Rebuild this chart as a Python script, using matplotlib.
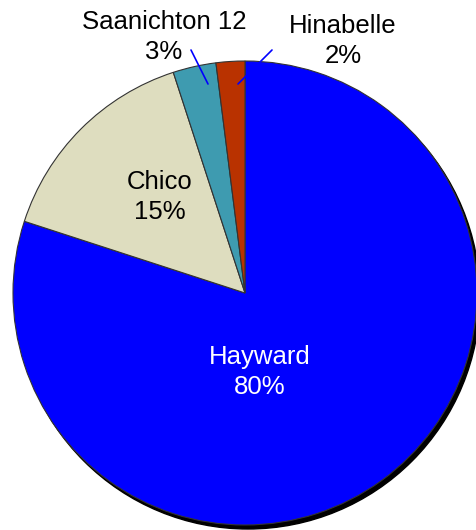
import numpy as np
import matplotlib.pyplot as plt
from matplotlib.patches import Circle

varieties = ['Hayward', 'Chico', 'Saanichton 12', 'Hinabelle']
shares = [80, 15, 3, 2]
colors = ['#0000ff', '#deddbf', '#3e9bb0', '#b93200']

plt.rcParams['font.family'] = ['Liberation Sans', 'DejaVu Sans']

fig = plt.figure(figsize=(4.77, 5.30), dpi=100)
ax = fig.add_axes([0, 0, 1, 1])

cx, cy, r = 245, 237, 232

# drop shadow behind the pie
ax.add_patch(Circle((cx + 3, cy - 4), r, color='black', zorder=0))

wedges, _ = ax.pie(shares, colors=colors, startangle=90, counterclock=False,
                   center=(cx, cy), radius=r, frame=True,
                   wedgeprops=dict(edgecolor='#333333', linewidth=0.8))
ax.set_xlim(0, 477)
ax.set_ylim(0, 530)
ax.set_aspect('equal')
ax.axis('off')

fs = 18.5
ls = 1.3
ax.text(260, 158, f'{varieties[0]}\n{shares[0]}%', color='white', fontsize=fs,
        ha='center', va='center', linespacing=ls)
ax.text(160, 333, f'{varieties[1]}\n{shares[1]}%', color='black', fontsize=fs,
        ha='center', va='center', linespacing=ls)
ax.text(164, 493, f'{varieties[2]}\n{shares[2]}%', color='black', fontsize=fs,
        ha='center', va='center', linespacing=ls)
ax.text(343, 489, f'{varieties[3]}\n{shares[3]}%', color='black', fontsize=fs,
        ha='center', va='center', linespacing=ls)

# leader lines for the two small slices
for inner, outer in [((208, 446), (191, 480)), ((238, 446), (272, 480))]:
    ax.annotate('', xy=inner, xytext=outer,
                arrowprops=dict(arrowstyle='-', color='blue', lw=1.2,
                                shrinkA=0, shrinkB=0))

fig.savefig('out.png', dpi=100)
